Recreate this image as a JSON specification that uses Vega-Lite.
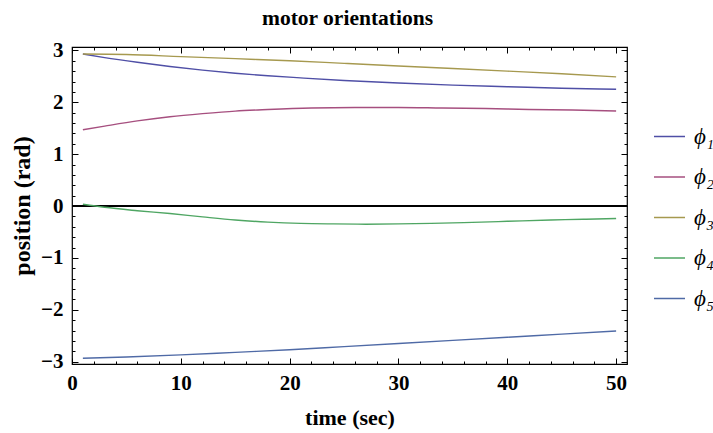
{
  "$schema": "https://vega.github.io/schema/vega-lite/v6.json",
  "description": "motor orientations: five joint angles over time",
  "width": 555,
  "height": 317,
  "autosize": "none",
  "padding": {"left": 72, "top": 47, "right": 86, "bottom": 69},
  "background": "white",
  "config": {
    "view": {"stroke": "#000", "strokeWidth": 1.2},
    "font": "Liberation Serif"
  },
  "data": {
    "values": [
      {"t": 1, "v": 2.93, "s": "ϕ₁"}, {"t": 3, "v": 2.86, "s": "ϕ₁"}, {"t": 6, "v": 2.77, "s": "ϕ₁"},
      {"t": 9, "v": 2.69, "s": "ϕ₁"}, {"t": 12, "v": 2.62, "s": "ϕ₁"}, {"t": 15, "v": 2.56, "s": "ϕ₁"},
      {"t": 18, "v": 2.51, "s": "ϕ₁"}, {"t": 21, "v": 2.47, "s": "ϕ₁"}, {"t": 25, "v": 2.42, "s": "ϕ₁"},
      {"t": 30, "v": 2.37, "s": "ϕ₁"}, {"t": 35, "v": 2.33, "s": "ϕ₁"}, {"t": 40, "v": 2.3, "s": "ϕ₁"},
      {"t": 45, "v": 2.27, "s": "ϕ₁"}, {"t": 50, "v": 2.25, "s": "ϕ₁"},

      {"t": 1, "v": 1.47, "s": "ϕ₂"}, {"t": 3, "v": 1.54, "s": "ϕ₂"}, {"t": 6, "v": 1.64, "s": "ϕ₂"},
      {"t": 9, "v": 1.72, "s": "ϕ₂"}, {"t": 12, "v": 1.78, "s": "ϕ₂"}, {"t": 15, "v": 1.83, "s": "ϕ₂"},
      {"t": 18, "v": 1.86, "s": "ϕ₂"}, {"t": 22, "v": 1.89, "s": "ϕ₂"}, {"t": 26, "v": 1.9, "s": "ϕ₂"},
      {"t": 30, "v": 1.9, "s": "ϕ₂"}, {"t": 34, "v": 1.89, "s": "ϕ₂"}, {"t": 38, "v": 1.88, "s": "ϕ₂"},
      {"t": 42, "v": 1.86, "s": "ϕ₂"}, {"t": 46, "v": 1.85, "s": "ϕ₂"}, {"t": 50, "v": 1.83, "s": "ϕ₂"},

      {"t": 1, "v": 2.93, "s": "ϕ₃"}, {"t": 5, "v": 2.92, "s": "ϕ₃"}, {"t": 10, "v": 2.88, "s": "ϕ₃"},
      {"t": 15, "v": 2.84, "s": "ϕ₃"}, {"t": 20, "v": 2.8, "s": "ϕ₃"}, {"t": 25, "v": 2.75, "s": "ϕ₃"},
      {"t": 30, "v": 2.7, "s": "ϕ₃"}, {"t": 35, "v": 2.65, "s": "ϕ₃"}, {"t": 40, "v": 2.6, "s": "ϕ₃"},
      {"t": 45, "v": 2.55, "s": "ϕ₃"}, {"t": 50, "v": 2.49, "s": "ϕ₃"},

      {"t": 1, "v": 0.035, "s": "ϕ₄"}, {"t": 3, "v": -0.025, "s": "ϕ₄"}, {"t": 6, "v": -0.09, "s": "ϕ₄"},
      {"t": 9, "v": -0.145, "s": "ϕ₄"}, {"t": 12, "v": -0.21, "s": "ϕ₄"}, {"t": 15, "v": -0.27, "s": "ϕ₄"},
      {"t": 18, "v": -0.31, "s": "ϕ₄"}, {"t": 21, "v": -0.335, "s": "ϕ₄"}, {"t": 24, "v": -0.345, "s": "ϕ₄"},
      {"t": 27, "v": -0.35, "s": "ϕ₄"}, {"t": 30, "v": -0.345, "s": "ϕ₄"}, {"t": 33, "v": -0.335, "s": "ϕ₄"},
      {"t": 36, "v": -0.32, "s": "ϕ₄"}, {"t": 40, "v": -0.295, "s": "ϕ₄"}, {"t": 44, "v": -0.27, "s": "ϕ₄"},
      {"t": 47, "v": -0.255, "s": "ϕ₄"}, {"t": 50, "v": -0.24, "s": "ϕ₄"},

      {"t": 1, "v": -2.935, "s": "ϕ₅"}, {"t": 5, "v": -2.91, "s": "ϕ₅"}, {"t": 10, "v": -2.87, "s": "ϕ₅"},
      {"t": 15, "v": -2.82, "s": "ϕ₅"}, {"t": 20, "v": -2.77, "s": "ϕ₅"}, {"t": 25, "v": -2.71, "s": "ϕ₅"},
      {"t": 30, "v": -2.65, "s": "ϕ₅"}, {"t": 35, "v": -2.59, "s": "ϕ₅"}, {"t": 40, "v": -2.53, "s": "ϕ₅"},
      {"t": 45, "v": -2.47, "s": "ϕ₅"}, {"t": 50, "v": -2.41, "s": "ϕ₅"}
    ]
  },
  "layer": [
    {
      "mark": {"type": "rule", "color": "#000", "strokeWidth": 1.2},
      "encoding": {
        "y": {"datum": 0, "type": "quantitative", "axis": null}
      }
    },
    {
      "mark": {"type": "line", "strokeWidth": 1.4, "interpolate": "monotone"},
      "encoding": {
        "x": {
          "field": "t",
          "type": "quantitative",
          "scale": {"domain": [0, 51], "nice": false, "zero": false},
          "axis": {
            "orient": "bottom",
            "values": [0, 2, 4, 6, 8, 10, 12, 14, 16, 18, 20, 22, 24, 26, 28, 30, 32, 34, 36, 38, 40, 42, 44, 46, 48, 50],
            "format": ".0f",
            "labelExpr": "datum.value % 10 === 0 ? datum.label : ''",
            "tickSize": {"condition": {"test": "datum.value % 10 === 0", "value": -6}, "value": -3},
            "tickColor": "#000",
            "tickWidth": 1,
            "domain": false,
            "grid": false,
            "labelFont": "Liberation Serif",
            "labelFontSize": 21,
            "labelFontWeight": "bold",
            "labelColor": "#000",
            "labelPadding": 14,
            "labelFlush": false,
            "labelOverlap": false,
            "title": "time (sec)",
            "titleFont": "Liberation Serif",
            "titleFontSize": 22,
            "titleFontWeight": "bold",
            "titleColor": "#000",
            "titlePadding": 11
          }
        },
        "y": {
          "field": "v",
          "type": "quantitative",
          "scale": {"domain": [-3.045, 3.065], "nice": false, "zero": false},
          "axis": {
            "orient": "left",
            "values": [-3, -2.8, -2.6, -2.4, -2.2, -2, -1.8, -1.6, -1.4, -1.2, -1, -0.8, -0.6, -0.4, -0.2, 0, 0.2, 0.4, 0.6, 0.8, 1, 1.2, 1.4, 1.6, 1.8, 2, 2.2, 2.4, 2.6, 2.8, 3],
            "format": ".0f",
            "labelExpr": "abs(datum.value - round(datum.value)) < 0.001 ? datum.label : ''",
            "tickSize": {"condition": {"test": "abs(datum.value - round(datum.value)) < 0.001", "value": -6}, "value": -3},
            "tickColor": "#000",
            "tickWidth": 1,
            "domain": false,
            "grid": false,
            "labelFont": "Liberation Serif",
            "labelFontSize": 21,
            "labelFontWeight": "bold",
            "labelColor": "#000",
            "labelPadding": 15,
            "labelOverlap": false,
            "title": "position (rad)",
            "titleFont": "Liberation Serif",
            "titleFontSize": 24,
            "titleFontWeight": "bold",
            "titleColor": "#000",
            "titlePadding": 6
          }
        },
        "color": {
          "field": "s",
          "type": "nominal",
          "scale": {
            "domain": ["ϕ₁", "ϕ₂", "ϕ₃", "ϕ₄", "ϕ₅"],
            "range": ["#4f4fa6", "#a64f7f", "#a6994f", "#4fa663", "#4f6aa6"]
          },
          "legend": {
            "orient": "none",
            "legendX": 581,
            "legendY": 73,
            "title": null,
            "symbolType": "stroke",
            "symbolSize": 961,
            "symbolStrokeWidth": 1.5,
            "labelFont": "Liberation Serif",
            "labelFontStyle": "italic",
            "labelFontSize": 23,
            "labelColor": "#000",
            "labelOffset": 8,
            "rowPadding": 11.5,
            "padding": 0
          }
        }
      }
    },
    {
      "mark": {"type": "line", "opacity": 0},
      "encoding": {
        "x": {
          "field": "t",
          "type": "quantitative",
          "scale": {"domain": [0, 51], "nice": false, "zero": false},
          "axis": {
            "orient": "top",
            "values": [0, 2, 4, 6, 8, 10, 12, 14, 16, 18, 20, 22, 24, 26, 28, 30, 32, 34, 36, 38, 40, 42, 44, 46, 48, 50],
            "labels": false,
            "tickSize": {"condition": {"test": "datum.value % 10 === 0", "value": -6}, "value": -3},
            "tickColor": "#000",
            "tickWidth": 1,
            "domain": false,
            "grid": false,
            "title": "motor orientations",
            "titleFont": "Liberation Serif",
            "titleFontSize": 21.5,
            "titleFontWeight": "bold",
            "titleColor": "#000",
            "titleBaseline": "alphabetic",
            "titlePadding": 22,
            "titleX": 275
          }
        },
        "y": {
          "field": "v",
          "type": "quantitative",
          "scale": {"domain": [-3.045, 3.065], "nice": false, "zero": false},
          "axis": {
            "orient": "right",
            "values": [-3, -2.8, -2.6, -2.4, -2.2, -2, -1.8, -1.6, -1.4, -1.2, -1, -0.8, -0.6, -0.4, -0.2, 0, 0.2, 0.4, 0.6, 0.8, 1, 1.2, 1.4, 1.6, 1.8, 2, 2.2, 2.4, 2.6, 2.8, 3],
            "labels": false,
            "tickSize": {"condition": {"test": "abs(datum.value - round(datum.value)) < 0.001", "value": -6}, "value": -3},
            "tickColor": "#000",
            "tickWidth": 1,
            "domain": false,
            "grid": false,
            "title": null
          }
        },
        "detail": {"field": "s"}
      }
    }
  ],
  "resolve": {"axis": {"x": "independent", "y": "independent"}}
}
